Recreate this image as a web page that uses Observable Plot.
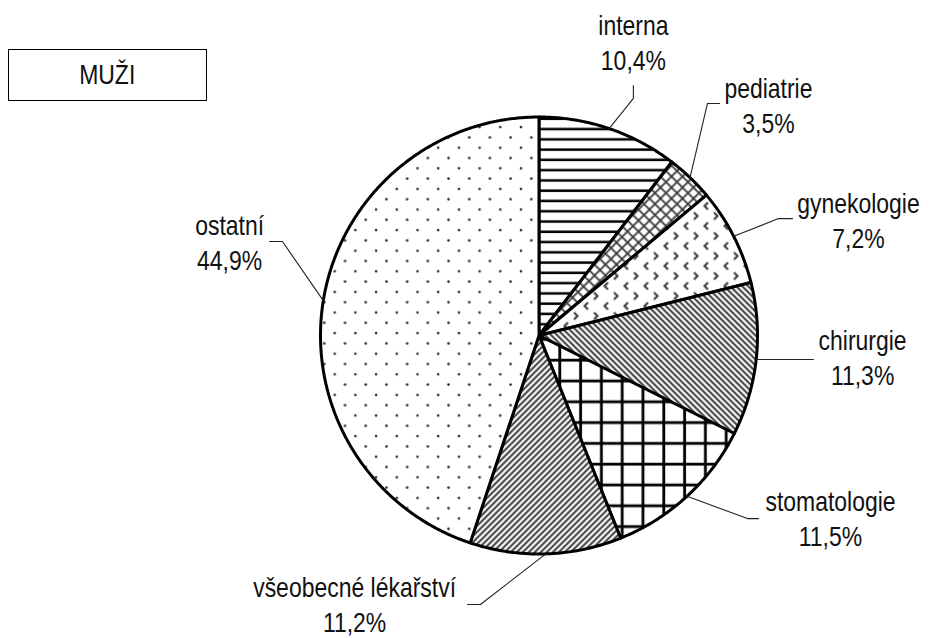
<!DOCTYPE html>
<html>
<head>
<meta charset="utf-8">
<script src="https://cdn.jsdelivr.net/npm/d3@7"></script>
<script src="https://cdn.jsdelivr.net/npm/@observablehq/plot@0.6"></script>
<style>
  body { margin: 0; background: #fff; }
  #wrap { position: relative; width: 929px; height: 638px; font-family: "Liberation Sans", Arial, sans-serif; }
  #title { position: absolute; left: 8px; top: 49px; width: 199px; height: 52px; box-sizing: border-box; border: 1px solid #000; display: flex; align-items: center; justify-content: center; font-size: 28px; color: #111; background: #fff; z-index: 2; }
  #title span { display: inline-block; transform: scaleX(0.82); }
  #wrap svg { position: absolute; left: 0; top: 0; }
</style>
</head>
<body>
<div id="wrap"><div id="title"><span>MUŽI</span></div></div>
<script>
// ---- data ----
const categories = ["interna", "pediatrie", "gynekologie", "chirurgie", "stomatologie", "všeobecné lékařství", "ostatní"];
const shares = [10.4, 3.5, 7.2, 11.3, 11.5, 11.2, 44.9];
const shareLabels = ["10,4%", "3,5%", "7,2%", "11,3%", "11,5%", "11,2%", "44,9%"];

// ---- layout (radius units, y up, pie centre at 0,0) ----
const patterns = ["p-hlines", "p-cross", "p-chev", "p-back", "p-grid", "p-fwd", "p-dots"];
const labelAt = [[0.432, 1.348], [1.050, 1.059], [1.462, 0.531], [1.481, -0.094], [1.334, -0.831], [-0.844, -1.224], [-1.416, 0.430]];
const elbowAt = [[0.432, 1.085], [0.771, 1.062], [1.096, 0.535], null, [0.954, -0.838], [-0.268, -1.231], [-1.174, 0.430]];
const endAt = [[0.432, 1.144], [0.826, 1.062], [1.160, 0.535], [1.256, -0.105], [1.005, -0.838], [-0.327, -1.231], [-1.233, 0.430]];

const W = 929, H = 638, cx = 538.5, cy = 335, R = 218.5;
const font = '"Liberation Sans", Arial, sans-serif';

const arcs = d3.pie().sort(null).value(d => d)(shares);
const pt = a => ({x: Math.sin(a), y: Math.cos(a)});

const sliceMarks = arcs.map((a, i) => {
  const pts = [{x: 0, y: 0}];
  const n = Math.max(2, Math.ceil((a.endAngle - a.startAngle) / (Math.PI / 360)));
  for (let k = 0; k <= n; k++) pts.push(pt(a.startAngle + (a.endAngle - a.startAngle) * k / n));
  return Plot.line(pts, {x: "x", y: "y", curve: "linear-closed", fill: `url(#${patterns[i]})`, stroke: "#000", strokeWidth: 3, strokeLinejoin: "round"});
});

const leaders = [];
arcs.forEach((a, i) => {
  const mid = (a.startAngle + a.endAngle) / 2;
  const p = pt(mid);
  leaders.push({name: categories[i], ...p});
  if (elbowAt[i]) leaders.push({name: categories[i], x: elbowAt[i][0], y: elbowAt[i][1]});
  else leaders.push({name: categories[i], x: endAt[i][0], y: p.y});
  leaders.push({name: categories[i], x: endAt[i][0], y: elbowAt[i] ? endAt[i][1] : p.y});
});

const labels = categories.map((c, i) => ({text: c + "\n" + shareLabels[i], x: labelAt[i][0], y: labelAt[i][1]}));

const svg = Plot.plot({
  width: W, height: H, margin: 0,
  x: {domain: [-cx / R, (W - cx) / R], axis: null},
  y: {domain: [(cy - H) / R, cy / R], axis: null},
  style: {background: "transparent", fontFamily: font},
  marks: [
    ...sliceMarks,
    Plot.line(leaders, {x: "x", y: "y", z: "name", stroke: "#222", strokeWidth: 1.1, strokeLinejoin: "miter"}),
    Plot.text(labels, {x: "x", y: "y", text: "text", fontSize: 28, lineHeight: 1.25, textAnchor: "middle", fill: "#111", fontFamily: font})
  ]
});

// condense label text horizontally (narrow face not installed)
d3.select(svg).selectAll("text").each(function() {
  const t = this.getAttribute("transform");
  if (t) this.setAttribute("transform", t + " scale(0.82,1)");
});

// pattern definitions
const defs = d3.select(svg).insert("defs", ":first-child");
function pat(id, w, h, draw) {
  const p = defs.append("pattern").attr("id", id).attr("patternUnits", "userSpaceOnUse").attr("width", w).attr("height", h);
  p.append("rect").attr("width", w).attr("height", h).attr("fill", "#fff");
  draw(p);
}
pat("p-hlines", 10.27, 10.27, p => p.append("rect").attr("x", 0).attr("y", 4.1).attr("width", 10.27).attr("height", 2.5).attr("fill", "#000"));
pat("p-cross", 11, 11, p => {
  p.append("path").attr("d", "M0,0L11,11M11,0L0,11M-1,10L1,12M10,-1L12,1M-1,1L1,-1M10,12L12,10").attr("stroke", "#333").attr("stroke-width", 1.7);
});
pat("p-chev", 20, 20, p => {
  p.append("path").attr("d", "M7.5,2L4,5.5L7.5,9").attr("stroke", "#333").attr("stroke-width", 2).attr("fill", "none");
  p.append("path").attr("d", "M13.5,12L17,15.5L13.5,19").attr("stroke", "#333").attr("stroke-width", 2).attr("fill", "none");
});
pat("p-back", 6, 6, p => p.append("path").attr("d", "M-1,-1L7,7M-1,5L1,7M5,-1L7,1").attr("stroke", "#222").attr("stroke-width", 1.8));
pat("p-fwd", 6, 6, p => p.append("path").attr("d", "M-1,7L7,-1M-1,1L1,-1M5,7L7,5").attr("stroke", "#222").attr("stroke-width", 1.8));
pat("p-grid", 20.8, 20.8, p => {
  p.append("rect").attr("x", 17.1).attr("y", 0).attr("width", 2.8).attr("height", 20.8).attr("fill", "#000");
  p.append("rect").attr("x", 0).attr("y", 4.7).attr("width", 20.8).attr("height", 2.8).attr("fill", "#000");
});
pat("p-dots", 20.7, 20.6, p => {
  p.append("circle").attr("cx", 3).attr("cy", 3).attr("r", 1.35).attr("fill", "#333");
  p.append("circle").attr("cx", 13.35).attr("cy", 13.3).attr("r", 1.35).attr("fill", "#333");
});

document.getElementById("wrap").appendChild(svg);
</script>
</body>
</html>
